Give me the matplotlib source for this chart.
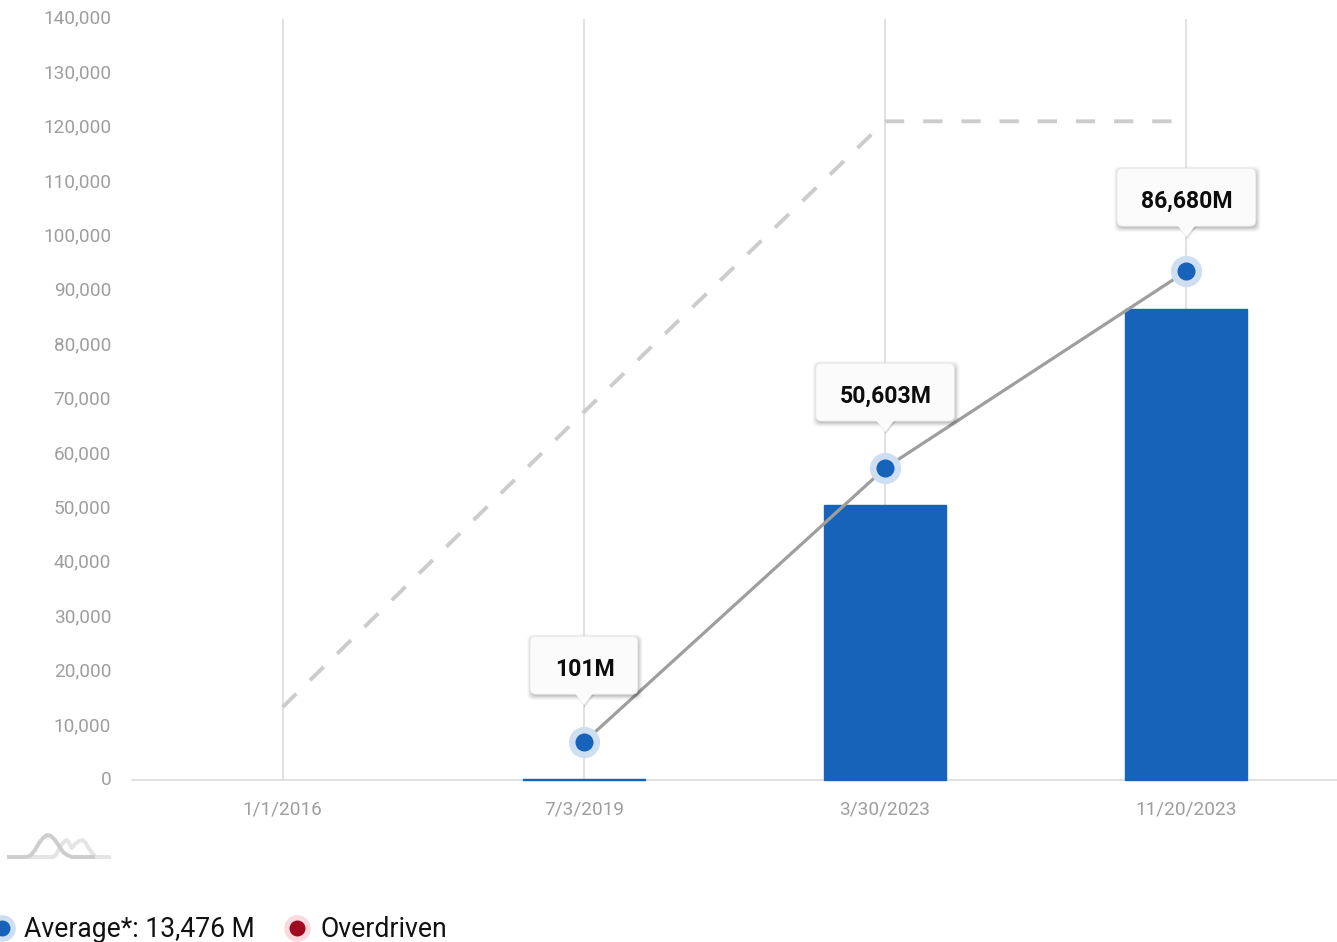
import matplotlib
matplotlib.use('Agg')
import matplotlib.pyplot as plt
from matplotlib.patches import FancyBboxPatch, Polygon
from matplotlib.transforms import Affine2D

plt.rcParams['font.family'] = ['Roboto', 'DejaVu Sans']

# datos
dates = ['1/1/2016', '7/3/2019', '3/30/2023', '11/20/2023']
bar_x = [1, 2, 3]
bar_values = [101, 50603, 86680]
line_x = [1, 2, 3]
line_values = [6950, 57350, 93550]
dash_x = [0, 1, 2, 3]
dash_values = [13400, 67650, 121100, 121100]
tooltip_labels = ['101M', '50,603M', '86,680M']
tooltip_widths = [108, 139, 139]
tooltip_gaps = [48, 47, 45]
yticks = list(range(0, 150000, 10000))

# curvas de la miniatura
spark_x1 = [0, 20, 24, 28, 32, 36, 40, 44, 48, 52, 56, 60, 65, 88]
spark_y1 = [0, 0, 2, 7, 14, 19, 22, 21, 17, 11, 5, 2, 0, 0]
spark_x2 = [21, 46, 49, 52, 55, 58, 60, 62, 65, 68, 72, 75, 78, 81, 85, 89, 104]
spark_y2 = [0, 0, 2, 8, 13, 16, 17, 14, 9, 13, 16, 17, 15, 10, 4, 0, 0]

BLUE = '#1763b9'
HALO = '#cfdff2'
W, H = 1337, 942

fig = plt.figure(figsize=(W / 100, H / 100), dpi=100)
ax = fig.add_axes([132 / W, 1 - 780 / H, 1205 / W, 761.5 / H])

ax.set_xlim(-0.5, 3.5)
ax.set_ylim(0, 140000)
ax.vlines(range(4), 0, 140000, color='#d9d9d9', lw=1.1, zorder=1)
ax.bar(bar_x, bar_values, width=0.405, color=BLUE, edgecolor=BLUE, lw=1, zorder=2, clip_on=False)
ax.plot(dash_x, dash_values, color='#cccccc', lw=2.8, dashes=(4.96, 4.86), zorder=3)
ax.plot(line_x, line_values, color='#9e9e9e', lw=2.3, zorder=3, solid_capstyle='butt')
ax.plot(line_x, line_values, 'o', ms=22.5, color=HALO, mew=0, zorder=4)
ax.plot(line_x, line_values, 'o', ms=13, color=BLUE, mew=0, zorder=5)

ax.set_xticks(range(4), dates)
ax.set_yticks(yticks, [f'{v:,}' for v in yticks])
ax.tick_params(length=0, labelsize=13.7, labelcolor='#9e9e9e')
ax.tick_params(axis='x', pad=14.7)
ax.tick_params(axis='y', pad=15)
for lab in ax.get_yticklabels():
    lab.set_transform(lab.get_transform() + Affine2D().translate(0, 1.7))
for name in ['top', 'right', 'left']:
    ax.spines[name].set_visible(False)
ax.spines['bottom'].set_color('#d9d9d9')
ax.spines['bottom'].set_linewidth(1.1)
ax.spines['bottom'].set_zorder(1.5)

# tooltips, en pixeles respecto al punto
for x, v, label, w, gap in zip(line_x, line_values, tooltip_labels, tooltip_widths, tooltip_gaps):
    px, py = ax.transData.transform((x, v))
    tr = Affine2D().translate(px, py)
    tip = [(-10, gap + 2), (10, gap + 2), (0, gap - 11)]
    for grow, alpha in [(4, 0.025), (3, 0.035), (2, 0.05), (1, 0.06), (0, 0.08)]:
        ax.add_patch(FancyBboxPatch((-w / 2 + 7 - grow, gap + 4 - grow), w - 12 + 2 * grow, 46 + 2 * grow,
                                    boxstyle='round,pad=6,rounding_size=6', transform=tr, fc='black',
                                    ec='none', alpha=alpha, zorder=6, clip_on=False))
    ax.add_patch(Polygon([(a + 1, b - 2) for a, b in tip], transform=tr, fc='black', ec='none', alpha=0.12,
                         zorder=6, clip_on=False))
    ax.add_patch(FancyBboxPatch((-w / 2 + 6, gap + 6), w - 12, 46, boxstyle='round,pad=6,rounding_size=6',
                                transform=tr, fc='#fdfdfd', ec='#e6e6e6', lw=0.7, alpha=0.97, zorder=7, clip_on=False))
    ax.add_patch(Polygon(tip, transform=tr, fc='#fbfbfb', ec='none', zorder=8, clip_on=False))
    ax.annotate(label, (x, v), xytext=(0.5, (gap + 24.5) * 0.72), textcoords='offset points', ha='center',
                va='center', fontsize=16.6, fontweight='bold', color='#0c0c0c', zorder=9, annotation_clip=False)

# miniatura
spark = fig.add_axes([7 / W, 1 - 859 / H, 104 / W, 28 / H])
spark.set_xlim(0, 104)
spark.set_ylim(-2, 26)
spark.axis('off')
spark.plot(spark_x2, spark_y2, color='#e4e4e4', lw=2.8, solid_joinstyle='round', solid_capstyle='butt', clip_on=False)
spark.plot(spark_x1, spark_y1, color='#cdcdcd', lw=2.8, solid_joinstyle='round', solid_capstyle='butt', clip_on=False)

# leyenda
leg = fig.add_axes([0, 0, 1, 1], facecolor='none')
leg.set_xlim(0, W)
leg.set_ylim(H, 0)
leg.axis('off')
leg.plot([1.5], [927.7], 'o', ms=19.2, color=HALO, mew=0)
leg.plot([1.5], [927.7], 'o', ms=11.5, color=BLUE, mew=0)
leg.text(24, 926.5, 'Average*: 13,476 M', fontsize=19.1, color='#111111', va='center_baseline')
leg.plot([297], [927.7], 'o', ms=19.2, color='#fcd9de', mew=0)
leg.plot([297], [927.7], 'o', ms=11.5, color='#a00a1e', mew=0)
leg.text(320, 926.5, 'Overdriven', fontsize=19.2, color='#111111', va='center_baseline')

fig.savefig('out.png', dpi=100)
